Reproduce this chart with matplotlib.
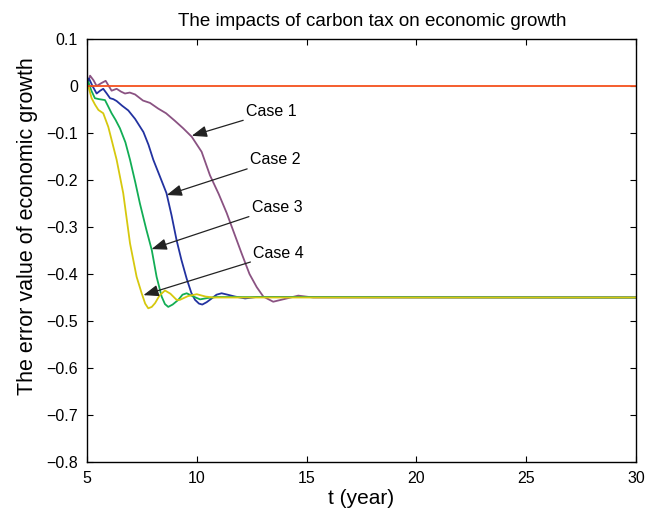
import numpy as np
import matplotlib
matplotlib.use("Agg")
import matplotlib.pyplot as plt

plt.rcParams['font.family'] = ['Liberation Sans', 'DejaVu Sans']

# values
t1 = [5.0, 5.14, 5.3, 5.44, 5.65, 5.85, 6.12, 6.35, 6.55, 6.73, 6.95, 7.19, 7.55, 7.87,
      8.24, 8.6, 9.0, 9.38, 9.77, 10.22, 10.6, 11.0, 11.36, 12.04, 12.4, 12.73, 13.03,
      13.48, 14.1, 14.62, 15.3, 30.0]
case1 = [0.0, 0.022, 0.012, 0.0, 0.006, 0.011, -0.01, -0.006, -0.012, -0.016, -0.014,
         -0.018, -0.031, -0.036, -0.048, -0.058, -0.074, -0.09, -0.108, -0.14, -0.19,
         -0.23, -0.27, -0.356, -0.40, -0.428, -0.448, -0.459, -0.452, -0.446, -0.45, -0.45]

t2 = [5.0, 5.09, 5.25, 5.44, 5.6, 5.74, 5.9, 6.05, 6.2, 6.35, 6.6, 6.88, 7.19, 7.57, 7.8,
      8.02, 8.3, 8.62, 8.85, 9.08, 9.3, 9.54, 9.75, 9.92, 10.1, 10.25, 10.45, 10.68, 10.9,
      11.13, 11.4, 11.74, 12.2, 12.7, 30.0]
case2 = [0.0, 0.016, 0.0, -0.016, -0.01, -0.006, -0.016, -0.026, -0.028, -0.032, -0.042,
         -0.052, -0.07, -0.098, -0.125, -0.157, -0.19, -0.228, -0.275, -0.328, -0.37,
         -0.41, -0.44, -0.455, -0.463, -0.465, -0.46, -0.452, -0.444, -0.441, -0.444,
         -0.448, -0.452, -0.449, -0.45]

t3 = [5.0, 5.06, 5.2, 5.36, 5.55, 5.82, 5.95, 6.12, 6.3, 6.5, 6.75, 6.96, 7.2, 7.41, 7.7,
      7.95, 8.17, 8.4, 8.55, 8.7, 8.9, 9.16, 9.35, 9.54, 9.8, 10.15, 10.5, 10.9, 30.0]
case3 = [0.0, 0.009, -0.01, -0.026, -0.028, -0.03, -0.042, -0.058, -0.072, -0.09, -0.12,
         -0.157, -0.205, -0.25, -0.305, -0.349, -0.406, -0.448, -0.464, -0.47, -0.465,
         -0.455, -0.444, -0.441, -0.447, -0.454, -0.451, -0.449, -0.45]

t4 = [5.0, 5.06, 5.21, 5.37, 5.52, 5.74, 5.97, 6.15, 6.35, 6.65, 6.96, 7.26, 7.49, 7.65,
      7.79, 7.95, 8.1, 8.3, 8.55, 8.8, 9.08, 9.23, 9.6, 10.0, 10.4, 10.75, 30.0]
case4 = [-0.005, 0.0, -0.026, -0.04, -0.051, -0.058, -0.087, -0.12, -0.157, -0.228, -0.335,
         -0.406, -0.441, -0.463, -0.473, -0.47, -0.462, -0.446, -0.435, -0.442, -0.455,
         -0.455, -0.447, -0.443, -0.448, -0.45, -0.45]

t0 = [5.0, 30.0]
base = [0.0, 0.0]

labels = ["Case 1", "Case 2", "Case 3", "Case 4"]
text_pos = [(12.24, -0.055), (12.42, -0.157), (12.5, -0.258), (12.57, -0.356)]
tips = [(9.77, -0.106), (8.63, -0.232), (7.94, -0.347), (7.57, -0.445)]

xticks = [5, 10, 15, 20, 25, 30]
yticks = [0.1, 0, -0.1, -0.2, -0.3, -0.4, -0.5, -0.6, -0.7, -0.8]
ytick_labels = ["0.1", "0", "\u22120.1", "\u22120.2", "\u22120.3", "\u22120.4",
                "\u22120.5", "\u22120.6", "\u22120.7", "\u22120.8"]

fig = plt.figure(figsize=(6.6, 5.15), dpi=100)
ax = fig.add_axes([0.1318, 0.1029, 0.8318, 0.8214])

ax.plot(t1, case1, color="#8a5282", lw=1.3)
ax.plot(t2, case2, color="#2232a0", lw=1.3)
ax.plot(t3, case3, color="#12ad55", lw=1.3)
ax.plot(t4, case4, color="#d6c80e", lw=1.3)
ax.plot(t0, base, color="#f5501e", lw=1.3)

for lab, tp, tip in zip(labels, text_pos, tips):
    ax.annotate(lab, xy=tip, xytext=tp, fontsize=11.5, va="center", ha="left",
                arrowprops=dict(arrowstyle="-|>,head_length=0.8,head_width=0.3",
                                color="#222222", lw=0.9, shrinkA=0, shrinkB=0))

ax.set_xlim(5, 30)
ax.set_ylim(-0.8, 0.1)
ax.set_xticks(xticks)
ax.set_yticks(yticks)
ax.set_yticklabels(ytick_labels)
ax.tick_params(direction="in", top=True, right=True, labelsize=11.5, length=4, pad=6.5)
for s in ax.spines.values():
    s.set_linewidth(1.0)

ax.set_title("The impacts of carbon tax on economic growth", fontsize=13.5, pad=9, x=0.52)
ax.set_xlabel("t (year)", fontsize=15)
ax.set_ylabel("The error value of economic growth", fontsize=15.5)
ax.xaxis.set_label_coords(0.5, -0.064)
ax.yaxis.set_label_coords(-0.09, 0.557)

fig.savefig("out.png", dpi=100)
